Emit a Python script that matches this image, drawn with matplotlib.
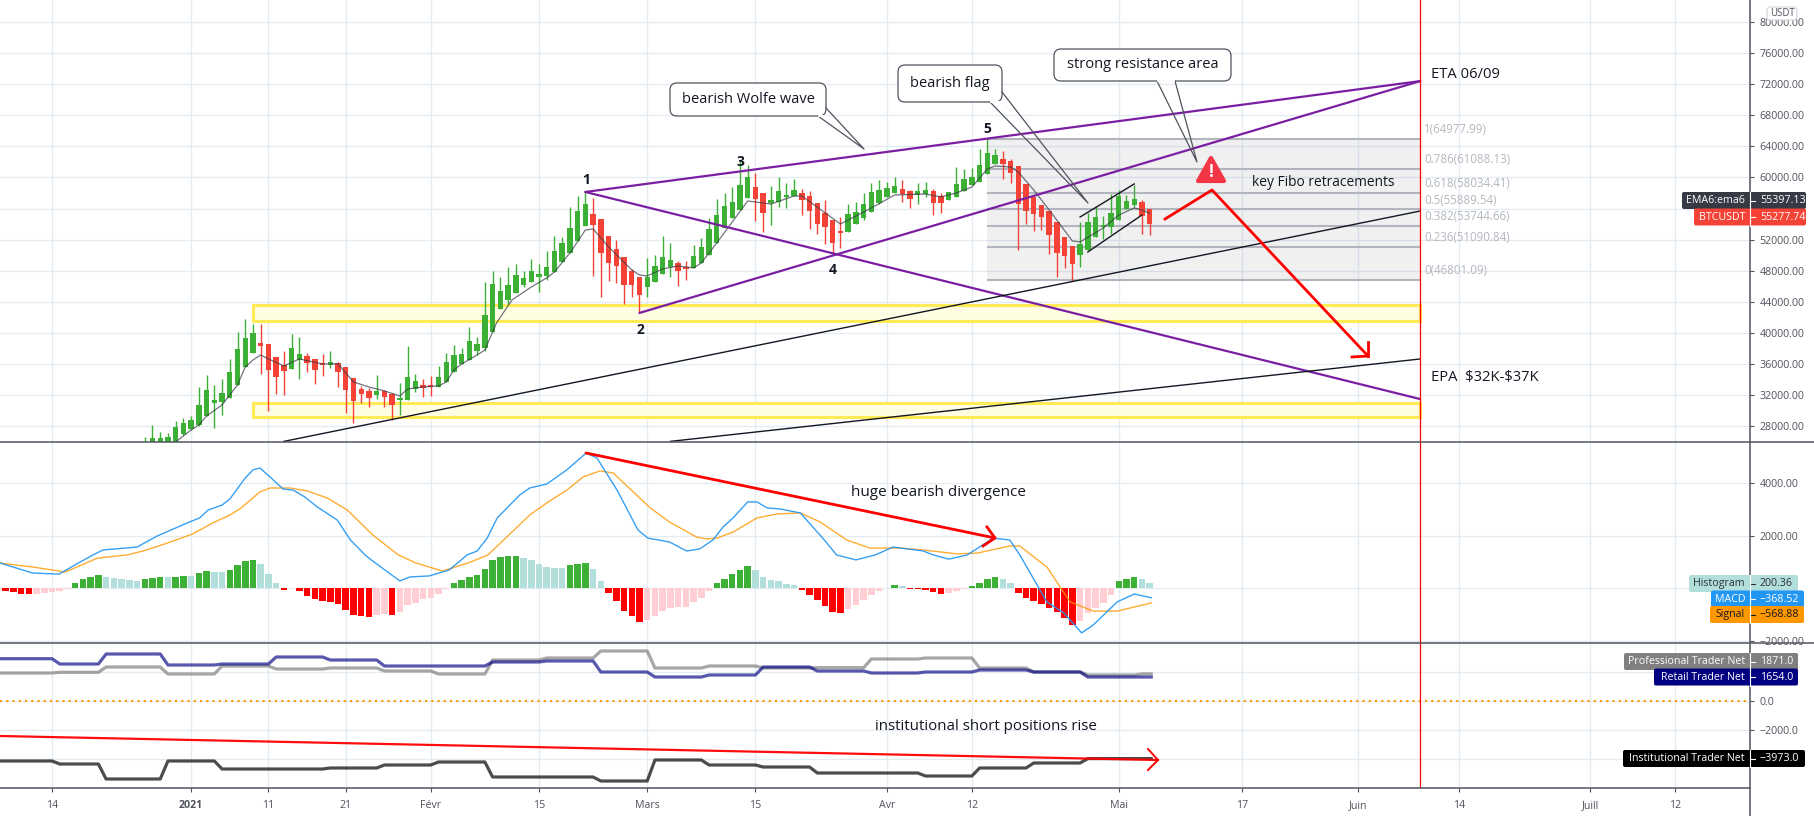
"""
BTCUSDT daily chart with MACD and trader net positions panes.
x axis is a day index, day 0 is 14 Dec 2020.
"""

import numpy as np
import matplotlib
matplotlib.use("Agg")
import matplotlib.pyplot as plt
from matplotlib.patches import FancyBboxPatch, Polygon, Rectangle


# ===============================
# 1. DATA
# ===============================

first_day = 12
opens = [24700, 25470, 25600, 25350, 25350, 27020, 27660, 28170, 29330, 31000, 31130, 31650, 33320, 35630, 37430, 38720, 38590, 36920, 35890, 35380,
         36530, 37050, 36660, 36150, 35890, 36150, 35630, 34220, 32800, 32550, 32030, 32550, 32160, 31390, 31390, 32800, 33320, 33320, 33060, 33700,
         34990, 36020, 36530, 37690, 38080, 40130, 43090, 44250, 45150, 46180, 46560, 47210, 47340, 47850, 49140, 50290, 51840, 53770, 55310, 54670,
         52480, 50810, 49780, 47980, 47210, 45920, 46560, 47590, 48490, 48990, 48490, 48370, 49010, 50040, 51580, 53510, 54790, 55820, 57370, 58780,
         58010, 56720, 56850, 57500, 57620, 58010, 57620, 56720, 55440, 54540, 53120, 52990, 54020, 54790, 55570, 56720, 57500, 58010, 58520, 58270,
         57750, 57880, 58270, 57620, 57110, 57500, 58270, 59040, 59420, 60450, 61740, 62380, 62120, 61480, 59170, 57500, 56470, 55690, 54280, 52350,
         51190, 50040, 50680, 52350, 53640, 53640, 54540, 55950, 56470, 56850, 55950]
highs = [26630, 28170, 27270, 27150, 28690, 29070, 29330, 33060, 34600, 33320, 34090, 36660, 40130, 41810, 41160, 41160, 38590, 36920, 37690, 39880,
         39490, 37430, 36660, 37300, 37690, 36280, 35630, 34220, 33190, 32930, 34600, 32680, 32290, 33580, 38330, 34730, 34090, 34480, 35760, 37430,
         38460, 38080, 40780, 39490, 46560, 47980, 47210, 48490, 48880, 47980, 49520, 48880, 50550, 52480, 52350, 56210, 57620, 58140, 57370, 54670,
         52480, 51970, 49780, 48240, 47210, 49650, 50040, 52480, 51580, 49270, 49270, 51320, 52220, 54790, 57240, 58010, 58780, 62120, 61610, 60580,
         58010, 58910, 60070, 59300, 59810, 58520, 58270, 56720, 57110, 54540, 54920, 56590, 56850, 58010, 59300, 59680, 59420, 60070, 59680, 58400,
         59300, 59420, 58520, 58010, 58140, 61350, 61100, 61220, 63670, 64950, 63670, 63410, 62380, 61480, 59170, 57500, 56470, 55690, 54280, 52350,
         51190, 54280, 55440, 56340, 55050, 57880, 58400, 57750, 59040, 57110, 55950]
lows = [24320, 25220, 25350, 25090, 25090, 26890, 27530, 28050, 29330, 27790, 29460, 31650, 33320, 35630, 37430, 34730, 29970, 32160, 32030, 35380,
        34090, 34990, 33450, 34480, 35500, 33060, 29720, 28430, 31000, 30490, 31520, 30490, 28820, 29460, 31390, 32420, 31780, 31900, 33060, 33700,
        34990, 36020, 36530, 37180, 37690, 40130, 43090, 43740, 45150, 45920, 46560, 45280, 46820, 47850, 49140, 50290, 51840, 53770, 47340, 44640,
        46690, 46440, 43740, 44640, 42580, 44640, 46560, 47590, 47210, 46050, 46820, 48370, 49010, 50040, 51580, 53510, 54790, 55820, 57370, 54410,
        52990, 53890, 56210, 56080, 57620, 55180, 53380, 52740, 51450, 50290, 50940, 52990, 54020, 54540, 55570, 56590, 57500, 58010, 56850, 56080,
        56590, 57500, 55180, 55440, 57110, 57500, 58270, 59040, 59420, 60450, 61740, 59810, 59300, 50680, 54020, 53120, 53250, 50170, 47210, 48370,
        46690, 48490, 50680, 52350, 52090, 52740, 54540, 55950, 56210, 52740, 52610]
closes = [25730, 26500, 26500, 26630, 27920, 28430, 28820, 30750, 32680, 31390, 32290, 34990, 37950, 39360, 40010, 38330, 35250, 34350, 35120, 38080,
          37300, 36150, 35250, 35890, 36280, 34990, 32680, 31260, 32160, 31650, 32550, 31780, 30750, 31650, 34350, 33830, 32930, 33060, 34350, 36280,
          37180, 37300, 38980, 38590, 42320, 46310, 45410, 46180, 47460, 47080, 47980, 47590, 48490, 50550, 51580, 53510, 55690, 56590, 53890, 50290,
          49010, 48620, 46180, 46180, 44890, 47210, 48620, 49780, 49390, 47980, 48240, 49910, 51070, 53380, 55180, 56340, 56850, 59040, 60070, 57240,
          55440, 57110, 58270, 57750, 58400, 57110, 55690, 54020, 53640, 51580, 52870, 55310, 55570, 56590, 58140, 58400, 58650, 58910, 57880, 57240,
          58270, 58400, 56720, 56720, 58140, 59170, 59810, 60070, 61610, 63150, 62900, 61740, 60580, 56590, 55690, 55310, 54920, 52610, 50290, 49910,
          48880, 51450, 54280, 54920, 53890, 55440, 57620, 56980, 57240, 55050, 54020]

ema_days = [16, 18, 19, 20, 22, 24, 25, 26, 27, 28, 30, 32, 35, 37, 39, 41, 43, 45, 46, 48, 50, 51, 52, 53, 55, 56, 57.5, 59.5, 62, 64, 65, 67, 69, 70,
            72, 75, 76, 77, 79, 81, 83, 84, 86, 90, 91, 93, 96, 97, 102, 103, 106, 109, 113, 115, 117, 119, 121, 122, 124, 125, 127, 129, 132, 133, 136,
            138, 140, 141, 142]
ema_values = [25990, 27530, 28170, 29330, 30750, 33320, 35630, 36530, 37180, 36660, 35760, 36660, 36020, 36020, 33700, 33060, 32550, 31900, 32800, 33060,
              33190, 33700, 35250, 36020, 37180, 37820, 41290, 44250, 45920, 47080, 47850, 50290, 53250, 53380, 51070, 48110, 47460, 47340, 48240, 48620,
              48370, 49010, 51580, 56980, 56850, 56590, 57620, 57620, 54020, 54540, 56080, 57750, 57880, 57500, 58010, 58780, 61100, 61480, 61350, 60710,
              58400, 55820, 51840, 51710, 53510, 55180, 56080, 55820, 55397]

hist_first_day = -7
hist_values = [-89, -114, -152, -216, -241, -229, -178, -140, -102, -25, 203, 330, 406, 483, 432, 368, 330, 292, 254, 330,
               394, 432, 406, 432, 457, 445, 559, 660, 610, 600, 686, 864, 1016, 1054, 902, 521, 178, -90, -10, -127,
               -305, -432, -495, -533, -622, -851, -1029, -1054, -1105, -1041, -1003, -1010, -927, -660, -559, -432, -381, -241, -51, 178,
               292, 432, 483, 711, 1054, 1168, 1206, 1210, 1130, 1054, 902, 787, 780, 775, 864, 902, 940, 711, 254, -203,
               -508, -889, -1080, -1308, -1232, -1080, -889, -775, -737, -711, -546, -394, -114, 178, 330, 521, 699, 826, 673, 406,
               292, 254, 140, 102, -89, -279, -470, -699, -927, -935, -813, -660, -470, -279, -127, -13, 102, 64, -51, -55,
               -60, -165, -241, -203, -127, -25, 64, 178, 330, 406, 330, 178, -203, -370, -500, -620, -770, -930, -1150, -1400,
               -1250, -950, -750, -560, -280, 250, 360, 420, 330, 200]

macd_days = [-6.7, -2.5, 0.9, 3.4, 5.3, 6.6, 11, 13.6, 17.5, 19.1, 20.2, 22, 23, 25, 26, 26.9, 28.2, 29.9, 31.2, 32.7, 34.3, 36.9, 38.6, 40.5, 41.3, 45,
             46.3, 48.8, 51.4, 53.7, 55, 56.3, 57.6, 60.5, 61.8, 64, 66.6, 69.1, 70.5, 73.1, 75.8, 77.1, 79.9, 82.1, 83.8, 85.5, 86.8, 88.1, 90, 91.2,
             92.5, 94.2, 96.8, 99.7, 101.5, 104, 106.5, 108.8, 112.7, 114, 116, 118.4, 120.4, 121.7, 123.9, 125.2, 128.7, 130.9, 133.2, 134.7, 137.8, 140, 142.2]
macd_values = [950, 570, 530, 950, 1260, 1450, 1560, 1980, 2480, 2670, 2970, 3160, 3390, 4190, 4500, 4570, 4230, 3770, 3730, 3470, 3090, 2590, 1830, 1260, 1070, 270,
               420, 460, 690, 1260, 1410, 1900, 2670, 3540, 3810, 3960, 4500, 5140, 4950, 3730, 2210, 1900, 1750, 1410, 1490, 1830, 2320, 2670, 3280, 3280,
               3050, 3010, 2860, 1900, 1260, 1070, 1260, 1560, 1410, 1260, 1100, 1260, 1640, 1900, 1830, 1260, -530, -950, -1710, -1410, -530, -230, -368]

signal_days = [-6.7, -2.5, 1.7, 5.9, 9.7, 11.8, 14.9, 18.2, 20.8, 23, 24.3, 26.9, 28.2, 30.8, 33, 35.6, 38.2, 41.5, 44.8, 47.1, 50.5, 53.8, 56.4, 58, 61.8, 64,
               66.6, 68.7, 70.9, 72.6, 75.2, 77.4, 79.9, 83.4, 84.7, 86, 88.1, 91.2, 93.8, 96.8, 99.4, 102.8, 105.8, 109.7, 112.7, 117.1, 119.7, 123.9, 125.2,
               128.7, 131.7, 134.7, 137.8, 142.2]
signal_values = [950, 800, 610, 1140, 1260, 1410, 1710, 2060, 2480, 2780, 3010, 3660, 3810, 3810, 3700, 3430, 2970, 2020, 1260, 950, 650, 950, 1260, 1710, 2780, 3240,
                 3730, 4230, 4460, 4380, 3660, 3050, 2510, 1940, 1870, 1900, 2130, 2670, 2820, 2860, 2510, 1830, 1520, 1520, 1450, 1300, 1330, 1600, 1600,
                 800, -530, -880, -880, -568]

net_days = [-7, 1, 7, 15, 22, 29, 36, 43, 50, 57, 64, 71, 78, 85, 92, 99, 106, 113, 120, 127, 134, 141]
retail_net = [2919, 2553, 3243, 2484, 2553, 3036, 2829, 2415, 2415, 2691, 2760, 2001, 1656, 1794, 2346, 2070, 1932, 2001, 2139, 2001, 1654, 1654]
professional_net = [1932, 1980, 2346, 1863, 2415, 2208, 2277, 2070, 1863, 2829, 2967, 3450, 2277, 2415, 2277, 2300, 2898, 2967, 2277, 2001, 1794, 1871]
institutional_net = [-4140, -4347, -5382, -4140, -4692, -4692, -4623, -4416, -4209, -5244, -5244, -5520, -4071, -4416, -4554, -4968, -4968, -5175, -4623, -4278, -3973, -3973]

date_days = [0, 18, 28, 38, 49, 63, 77, 91, 108, 119, 138, 154, 169, 182, 199, 210]
date_labels = ["14", "2021", "11", "21", "Févr", "15", "Mars", "15", "Avr", "12", "Mai", "17", "Juin", "14", "Juill", "12"]

fib_ratios = ["1", "0.786", "0.618", "0.5", "0.382", "0.236", "0"]
fib_prices = [64977.99, 61088.13, 58034.41, 55889.54, 53744.66, 51090.84, 46801.09]

price_ticks = list(range(28000, 80001, 4000))
macd_ticks = [-2000, 0, 2000, 4000]
net_ticks = [-4000, -2000, 0, 2000]

wolfe_lines = [((69, 58140), (177, 72400)), ((69, 58140), (177, 31500)), ((76, 42580), (177, 72400))]
trend_lines = [((30, 26060), (177, 55690)), ((80, 26060), (177, 36660)),
               ((133, 54920), (140, 59170)), ((134, 50420), (141, 55180))]
yellow_zones = [(41550, 43610), (29200, 31000)]
wave_labels = [("1", 586, 180), ("2", 640, 330), ("3", 740, 162), ("4", 833, 270), ("5", 987, 129)]


# ===============================
# 2. STYLE
# ===============================

GREEN = "#3cb034"
RED = "#f44336"
GRID = "#e4ebf1"
AXIS = "#50535e"
FIB = "#b2b5be"
DAY_MIN, DAY_MAX = -6.727, 219.66

plt.rcParams["font.family"] = ["Open Sans", "DejaVu Sans"]
plt.rcParams["axes.unicode_minus"] = False

fig = plt.figure(figsize=(18.14, 8.16), dpi=100)
W, H = 1814.0, 816.0


def make_pane(top, bottom, ymin, ymax, ticks, labels):
    ax = fig.add_axes([0, 1 - bottom / H, 1750 / W, (bottom - top) / H])
    ax.set_xlim(DAY_MIN, DAY_MAX)
    ax.set_ylim(ymin, ymax)
    ax.set_xticks(date_days)
    ax.set_yticks(ticks)
    ax.set_yticklabels(labels)
    ax.yaxis.tick_right()
    ax.grid(True, color=GRID, lw=1.0)
    ax.set_axisbelow(True)
    ax.tick_params(axis="y", length=3, width=0.8, color=AXIS, labelcolor=AXIS, labelsize=7.7, pad=4)
    ax.tick_params(axis="x", length=0, labelbottom=False)
    for s in ax.spines.values():
        s.set_visible(False)
    return ax


# the 56000 label sits under the last price tags
ax_price = make_pane(0, 442, 25980, 82830, price_ticks, ["" if t == 56000 else f"{t:.2f}" for t in price_ticks])
ax_macd = make_pane(442, 643, -2095, 5562, macd_ticks, ["\u22122000.00", "", "2000.00", "4000.00"])
ax_net = make_pane(643, 788, -6003, 4002, net_ticks, ["", "\u22122000.0", "0.0", ""])

ax_net.set_xticks(date_days)
ax_net.set_xticklabels(date_labels)
ax_net.tick_params(axis="x", length=3, width=0.8, color=AXIS, labelbottom=True, labelcolor=AXIS, labelsize=7.7, pad=6)
ax_net.get_xticklabels()[1].set_fontweight("bold")


# ===============================
# 3. PRICE PANE
# ===============================

for low, high in yellow_zones:
    ax_price.add_patch(Rectangle((26, low), 177 - 26, high - low, fc="#fffde2", ec="#ffeb55", lw=2.2, zorder=1.5))

# fibonacci block
ax_price.add_patch(Rectangle((121, fib_prices[-1]), 177 - 121, fib_prices[0] - fib_prices[-1], fc="#787b86", alpha=0.11, lw=0, zorder=1.2))
for ratio, price in zip(fib_ratios, fib_prices):
    ax_price.plot([121, 177], [price, price], color=FIB, lw=1.5, zorder=1.4, solid_capstyle="butt")
    ax_price.annotate(f"{ratio}({price})", (177, price), xytext=(3, 2), textcoords="offset points",
                      color="#b5b7c0", fontsize=8.3, va="bottom", ha="left")

days = first_day + np.arange(len(opens))
opens = np.array(opens)
closes = np.array(closes)
colors = [GREEN if c >= o else RED for o, c in zip(opens, closes)]
ax_price.vlines(days, lows, highs, colors=colors, lw=1.0, zorder=3)
ax_price.bar(days, np.abs(closes - opens), bottom=np.minimum(opens, closes), width=0.7, color=colors, zorder=3)
ax_price.plot(ema_days, ema_values, color="#363a45", lw=0.9, alpha=0.7, zorder=4)

for a, b in wolfe_lines:
    ax_price.plot([a[0], b[0]], [a[1], b[1]], color="#7b1fa2", lw=1.6, zorder=5, solid_capstyle="round")
for a, b in trend_lines:
    ax_price.plot([a[0], b[0]], [a[1], b[1]], color="#131722", lw=1.0, zorder=5)


# ===============================
# 4. MACD PANE
# ===============================

hist_days = hist_first_day + np.arange(len(hist_values))
hist_colors = []
prev = hist_values[0]
for h in hist_values:
    if h >= 0:
        hist_colors.append(GREEN if h >= prev else "#b2dfdb")
    else:
        hist_colors.append("#ff0000" if h < prev else "#ffcdd2")
    prev = h
ax_macd.bar(hist_days, hist_values, width=0.84, color=hist_colors, zorder=2)
ax_macd.plot(signal_days, signal_values, color="#ff9800", lw=1.0, alpha=0.8, zorder=3)
ax_macd.plot(macd_days, macd_values, color="#2196f3", lw=1.0, alpha=0.9, zorder=3)


# ===============================
# 5. TRADER NET PANE
# ===============================

def step_xy(values):
    # weekly values, each one sloped in over a day
    xs, ys = [], []
    for i, v in enumerate(values):
        end = net_days[i + 1] - 1 if i + 1 < len(net_days) else 142.2
        xs += [net_days[i], end]
        ys += [v, v]
    return xs, ys


ax_net.plot([DAY_MIN, DAY_MAX], [0, 0], color="#ff9800", lw=1.5, ls=(0, (1, 2)), zorder=2)
ax_net.plot(*step_xy(professional_net), color="#808080", alpha=0.7, lw=2.3, zorder=3)
ax_net.plot(*step_xy(retail_net), color="#000080", alpha=0.65, lw=2.3, zorder=4)
ax_net.plot(*step_xy(institutional_net), color="#000000", alpha=0.7, lw=2.3, zorder=3)

for ax in (ax_price, ax_macd, ax_net):
    ax.axvline(177, color="#ff0000", lw=0.9, zorder=6)


# ===============================
# 6. OVERLAY IN PIXELS (DRAWINGS, LABELS)
# ===============================

ov = fig.add_axes([0, 0, 1, 1], zorder=10)
ov.set_xlim(0, W)
ov.set_ylim(H, 0)
ov.axis("off")

ov.plot([1750, 1750], [0, H], color=AXIS, lw=1.1)
ov.plot([0, W], [442, 442], color=AXIS, lw=1.1)
ov.plot([0, W], [643, 643], color=AXIS, lw=1.1)
ov.plot([0, 1750], [788, 788], color=AXIS, lw=1.1)


def callout(x0, y0, x1, y1, tail, gap, text):
    ov.add_patch(FancyBboxPatch((x0, y0), x1 - x0, y1 - y0, boxstyle="round,pad=0,rounding_size=7",
                                fc="white", ec="#50535e", lw=0.9, zorder=5))
    a, tip, b = tail
    ov.plot([a[0], tip[0], b[0]], [a[1], tip[1], b[1]], color="#50535e", lw=0.9, zorder=6)
    ov.plot(gap[0], gap[1], color="white", lw=1.4, zorder=6)
    ov.text((x0 + x1) / 2, (y0 + y1) / 2, text, ha="center", va="center", fontsize=10.5, color="#131722", zorder=7)


callout(670, 83, 826, 116, [(818, 116), (864, 149), (826, 108)], ([819, 826], [116, 116]), "bearish Wolfe wave")
callout(898, 65, 1002, 102, [(990, 102), (1088, 203), (1002, 92)], ([991, 1001], [102, 102]), "bearish flag")
callout(1054, 49, 1231, 81, [(1157, 81), (1197, 162), (1175, 81)], ([1158, 1174], [81, 81]), "strong resistance area")

for label, x, y in wave_labels:
    ov.text(x, y, label, ha="center", va="center", fontsize=10, fontweight="bold", color="#131722")

ov.text(1431, 75, "ETA 06/09", fontsize=10.6, va="center", color="#131722")
ov.text(1431, 378, "EPA  \\$32K-\\$37K", fontsize=10.6, va="center", color="#131722")
ov.text(1252, 182, "key Fibo retracements", fontsize=9.9, va="center", color="#131722")
ov.text(851, 492, "huge bearish divergence", fontsize=11, va="center", color="#131722")
ov.text(875, 727, "institutional short positions rise", fontsize=10.9, va="center", color="#131722")

# red arrows
ov.plot([586, 995], [453, 538], color="#ff0000", lw=2.0, solid_capstyle="round")
ov.plot([987, 995, 983], [527, 538, 546], color="#ff0000", lw=2.0)
ov.plot([1165, 1212, 1368], [219, 190, 356], color="#ff0000", lw=2.0)
ov.plot([1368, 1368], [342, 356], color="#ff0000", lw=2.0)
ov.plot([1352, 1368], [357, 356], color="#ff0000", lw=2.0)
ov.plot([0, 1158], [736, 760], color="#ff0000", lw=1.6, alpha=0.95)
ov.plot([1148, 1158, 1148], [749, 760, 770], color="#ff0000", lw=1.4)

# warning sign
ov.add_patch(Polygon([(1211, 158), (1224, 181), (1198, 181)], closed=True, fc="#f23645", ec="#f23645", lw=3, joinstyle="round"))
ov.text(1211, 172, "!", color="white", fontsize=12, fontweight="bold", ha="center", va="center")


def axis_label(name, value, y, x0, x1, color, text_color="white"):
    ov.add_patch(FancyBboxPatch((x0, y - 8.5), x1 - x0, 17, boxstyle="round,pad=0,rounding_size=2", fc=color, ec="none", zorder=8))
    ov.text(1745, y, name, ha="right", va="center", fontsize=7.7, color=text_color, zorder=9)
    ov.text(1760, y, value, ha="left", va="center", fontsize=7.7, color=text_color, zorder=9)
    ov.plot([1750, 1755], [y, y], color=text_color, lw=0.8, zorder=9)
    ov.plot([1750, 1750], [y - 8.5, y + 8.5], color="white", lw=0.8, zorder=9)


axis_label("EMA6:ema6", "55397.13", 200.5, 1682, 1806, "#363a45")
axis_label("BTCUSDT", "55277.74", 217, 1694, 1806, RED)
axis_label("Histogram", "200.36", 583.5, 1689, 1798, "#b2dfdb", "#2a2e39")
axis_label("MACD", "\u2212368.52", 599, 1711, 1804, "#2196f3")
axis_label("Signal", "\u2212568.88", 614.5, 1710, 1804, "#ff9800", "#131722")
axis_label("Professional Trader Net", "1871.0", 661.5, 1624, 1798, "#808080")
axis_label("Retail Trader Net", "1654.0", 677, 1654, 1798, "#000080")
axis_label("Institutional Trader Net", "\u22123973.0", 758.5, 1623, 1805, "#000000")

# currency button
ov.add_patch(FancyBboxPatch((1767, 7), 30, 13, boxstyle="round,pad=0,rounding_size=3", fc="white", ec="#d1d4dc", lw=0.8, zorder=8))
ov.text(1782, 14, "USDT", ha="center", va="center", fontsize=6.9, color=AXIS, zorder=9)

fig.savefig("out.png", dpi=100)
